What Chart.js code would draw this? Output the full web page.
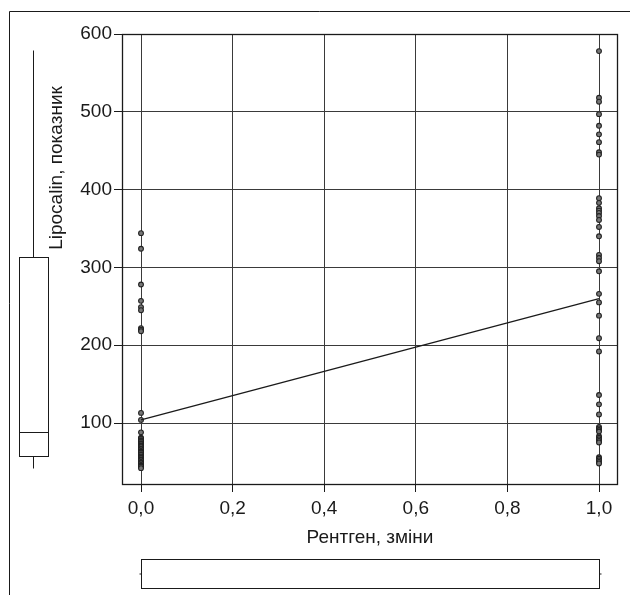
<!DOCTYPE html>
<html>
<head>
<meta charset="utf-8">
<script src="https://cdn.jsdelivr.net/npm/chart.js@4.4.0/dist/chart.umd.min.js"></script>
<style>
    body { margin: 0; background: #fff; }
    #wrap { width: 630px; height: 595px; }
</style>
</head>
<body>
<div id="wrap"><canvas id="chart" width="630" height="595"></canvas></div>
<script>
// Lipocalin by X-ray change group (0 = no change, 1 = change)
const group0Values = [344, 324, 278, 257, 249, 245, 222, 220, 218, 113, 104, 88,
    81, 80, 78, 77, 76, 74, 73, 71, 70, 69, 67, 66, 64, 63, 62, 60, 59, 57, 56, 55,
    53, 52, 50, 49, 48, 46, 45, 44, 42];
const group1Values = [578, 518, 513, 497, 482, 471, 461, 448, 445, 389, 383, 376,
    373, 370, 366, 361, 352, 340, 316, 312, 308, 295, 266, 255, 238, 209, 192,
    136, 124, 111, 95, 93, 91, 89, 83, 81, 79, 77, 75, 56, 54, 52, 50, 48];

// fitted line
const fitX = [0, 1];
const fitY = [104, 260];

// marginal box plots: min, q1, median, q3, max
const yBoxStats = [42, 57, 88, 314, 580];
const xBoxStats = [0, 0, 1, 1, 1];

const xTicks = [0, 0.2, 0.4, 0.6, 0.8, 1.0];
const yTicks = [100, 200, 300, 400, 500, 600];

const xTitle = 'Рентген, зміни';
const yTitle = 'Lipocalin, показник';

const FONT = '"Liberation Sans", Arial, sans-serif';
const INK = '#1a1a1a';

function fmt(v) {
    return v.toFixed(1).replace('.', ',');
}

const extras = {
    id: 'extras',
    afterDraw(chart) {
        const ctx = chart.ctx;
        const area = chart.chartArea;
        const xs = chart.scales.x;
        const ys = chart.scales.y;

        ctx.save();
        ctx.strokeStyle = INK;
        ctx.lineWidth = 1;

        // outer frame (runs off the right and bottom edges)
        ctx.beginPath();
        ctx.moveTo(9.5, 595);
        ctx.lineTo(9.5, 11.5);
        ctx.lineTo(630, 11.5);
        ctx.stroke();

        // plot frame
        ctx.lineWidth = 1.3;
        ctx.strokeRect(Math.round(area.left) + 0.5, Math.round(area.top) + 0.5,
            Math.round(area.right - area.left), Math.round(area.bottom - area.top));
        ctx.lineWidth = 1;

        // vertical box plot of y on the left
        const bx0 = 19.5, bx1 = 48.5, bxm = 33.5;
        const py = yBoxStats.map(v => Math.round(ys.getPixelForValue(v)) + 0.5);
        ctx.beginPath();
        ctx.moveTo(bxm, py[0]); ctx.lineTo(bxm, py[1]);
        ctx.moveTo(bxm, py[3]); ctx.lineTo(bxm, py[4]);
        ctx.moveTo(bx0, py[2]); ctx.lineTo(bx1, py[2]);
        ctx.stroke();
        ctx.strokeRect(bx0, py[3], bx1 - bx0, py[1] - py[3]);

        // horizontal box plot of x at the bottom
        const by0 = 559.5, by1 = 588.5, bym = 574;
        const px = xBoxStats.map(v => Math.round(xs.getPixelForValue(v)) + 0.5);
        ctx.strokeRect(px[1], by0, px[3] - px[1], by1 - by0);
        ctx.beginPath();
        ctx.moveTo(px[0] - 2, bym); ctx.lineTo(px[1], bym);
        ctx.moveTo(px[3], bym); ctx.lineTo(px[4] + 2, bym);
        ctx.moveTo(px[2], by0); ctx.lineTo(px[2], by1);
        ctx.stroke();

        // axis titles
        ctx.fillStyle = INK;
        ctx.font = '19px ' + FONT;
        ctx.textAlign = 'center';
        ctx.textBaseline = 'middle';
        ctx.fillText(xTitle, (xs.getPixelForValue(0) + xs.getPixelForValue(1)) / 2, 538);

        ctx.translate(57, 168);
        ctx.rotate(-Math.PI / 2);
        ctx.fillText(yTitle, 0, 0);
        ctx.restore();
    }
};

const points0 = group0Values.map(v => ({ x: 0, y: v }));
const points1 = group1Values.map(v => ({ x: 1, y: v }));
const fitPoints = fitX.map((x, i) => ({ x: x, y: fitY[i] }));

const pointStyle = {
    pointRadius: 2.4,
    pointBorderWidth: 1.1,
    pointBorderColor: '#222',
    pointBackgroundColor: '#777'
};

new Chart(document.getElementById('chart').getContext('2d'), {
    type: 'scatter',
    data: {
        datasets: [
            {
                label: 'fit',
                type: 'line',
                data: fitPoints,
                borderColor: INK,
                borderWidth: 1.3,
                pointRadius: 0,
                fill: false,
                tension: 0
            },
            Object.assign({ label: '0', data: points0 }, pointStyle),
            Object.assign({ label: '1', data: points1 }, pointStyle)
        ]
    },
    options: {
        responsive: false,
        animation: false,
        events: [],
        layout: { padding: { top: 34, right: 13, left: 0, bottom: 0 } },
        plugins: {
            legend: { display: false },
            tooltip: { enabled: false }
        },
        scales: {
            x: {
                type: 'linear',
                min: -0.0415,
                max: 1.0393,
                afterBuildTicks: (s) => { s.ticks = xTicks.map(v => ({ value: v })); },
                afterFit: (s) => { s.height = 111; },
                border: { display: true, color: INK, width: 1 },
                grid: { color: '#3a3a3a', lineWidth: 1, tickLength: 8, tickColor: INK },
                ticks: {
                    color: INK,
                    font: { family: FONT, size: 19 },
                    padding: 5,
                    maxRotation: 0,
                    callback: (v) => fmt(v)
                }
            },
            y: {
                type: 'linear',
                min: 21.6,
                max: 600,
                afterBuildTicks: (s) => { s.ticks = yTicks.map(v => ({ value: v })); },
                afterFit: (s) => { s.width = 122; },
                border: { display: true, color: INK, width: 1 },
                grid: { color: '#3a3a3a', lineWidth: 1, tickLength: 8, tickColor: INK },
                ticks: {
                    color: INK,
                    font: { family: FONT, size: 19 },
                    padding: 2,
                    callback: (v) => String(v)
                }
            }
        }
    },
    plugins: [extras]
});
</script>
</body>
</html>
